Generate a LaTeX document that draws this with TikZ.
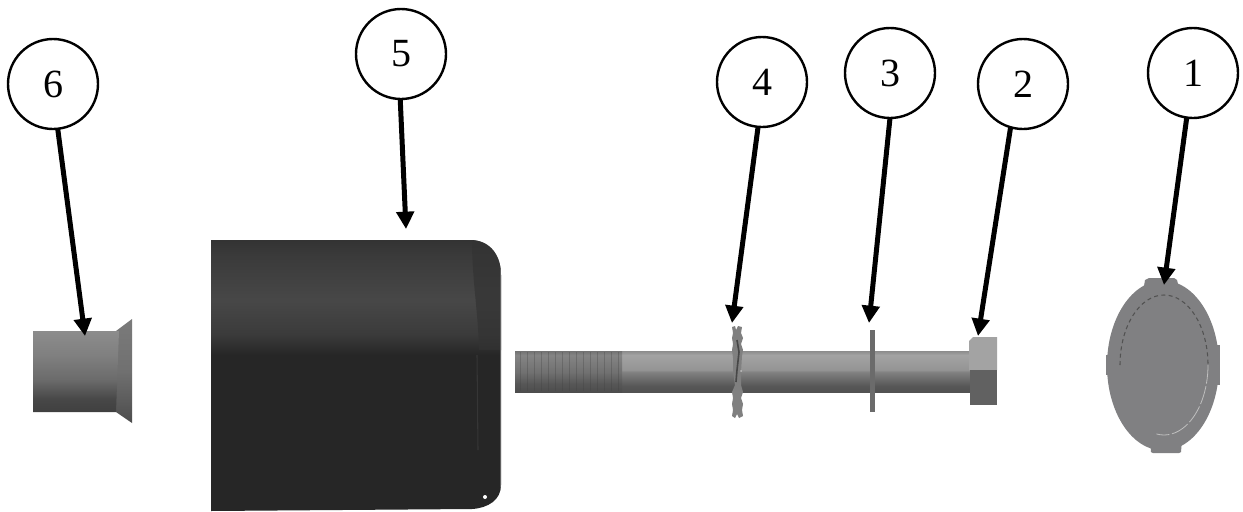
\documentclass[tikz,border=0pt]{standalone}
\usepackage{fontspec}
\setmainfont{Liberation Serif}
\usetikzlibrary{arrows.meta}
\definecolor{capbody}{HTML}{808082}
\pgfdeclareverticalshading{sleeveshade}{100bp}{color(0bp)=(black!100!white);color(25bp)=(black!75!white);color(33bp)=(black!72!white);color(45bp)=(black!58!white);color(60bp)=(black!50!white);color(75bp)=(black!45!white);color(100bp)=(black!45!white)}
\pgfdeclareverticalshading{flangeshade}{100bp}{color(0bp)=(black!70!white);color(25bp)=(black!70!white);color(50bp)=(black!56!white);color(75bp)=(black!52!white);color(100bp)=(black!52!white)}
\pgfdeclareverticalshading{bodyshade}{100bp}{color(0bp)=(black!85!white);color(25bp)=(black!85!white);color(53.8bp)=(black!85!white);color(57.5bp)=(black!77!white);color(63.9bp)=(black!72!white);color(72bp)=(black!77!white);color(75bp)=(black!80!white);color(100bp)=(black!80!white)}
\pgfdeclareverticalshading{shaftshade}{100bp}{color(0bp)=(black!68!white);color(25bp)=(black!68!white);color(32bp)=(black!66!white);color(49bp)=(black!50!white);color(52bp)=(black!42!white);color(70bp)=(black!36!white);color(75bp)=(black!45!white);color(100bp)=(black!45!white)}
\pgfdeclareverticalshading{threadshade}{100bp}{color(0bp)=(black!70!white);color(25bp)=(black!70!white);color(35bp)=(black!66!white);color(49bp)=(black!56!white);color(70bp)=(black!48!white);color(75bp)=(black!55!white);color(100bp)=(black!55!white)}
\tikzset{
  x=0.75pt,y=-0.75pt,
  callout/.style={circle,draw=black,fill=white,line width=1.8pt,minimum size=67.5pt,inner sep=0pt,outer sep=0pt,font=\fontsize{30}{32}\selectfont,text=black},
  leader/.style={line width=3.75pt,-{Triangle[length=13pt,width=13pt]},draw=black},
}
\begin{document}
\begin{tikzpicture}
\useasboundingbox (0,0) rectangle (1243,511);
\fill[white] (0,0) rectangle (1243,511);

% part 6: flanged sleeve
\shade[shading=flangeshade] (116,331) -- (132,319) -- (132,423) -- (116,412) -- cycle;
\shade[shading=sleeveshade] (33,331) -- (119,331) -- (116,412) -- (33,412) -- cycle;

% part 5: dark cylinder
\begin{scope}
\path[clip] (211,240) -- (472,240) .. controls (490,241) and (501,255) .. (501,275) -- (501,485) .. controls (501,500) and (488,508) .. (472,509) -- (211,511) -- cycle;
\shade[shading=bodyshade] (211,240) rectangle (501,511);
\fill[black!80!white,opacity=.7] (472,240) -- (501,240) -- (501,350) -- (479,350) .. controls (478,310) and (472,280) .. (472,240) -- cycle;
\draw[black!76!white,opacity=.7,line width=.8pt] (477,355) -- (478,450);
\draw[black!62!white,line width=1.2pt] (500.5,270) -- (500.5,490);
\end{scope}
\fill[white] (485,497) circle (2);

% part 2/3/4 bolt
\shade[shading=shaftshade] (515,351) rectangle (972,392);
\shade[shading=threadshade] (515,351) rectangle (622,392);
\foreach \tx in {520,527,...,620} {\draw[black!75!white,opacity=.3,line width=.6pt] (\tx,352) -- (\tx,391);}
\fill[black!36!white] (969,341) -- (973,337) -- (997,337) -- (997,370) -- (969,370) -- cycle;
\fill[black!62!white] (970,370) rectangle (997,405);
% washer 3
\fill[black!58!white] (870,330) rectangle (875,412);
% washer 4
\fill[black!50!white] (732,327) -- (735,326) -- (736,330) -- (738,326) -- (742,327) -- (741,333) -- (743,338) -- (741,344) -- (743,350) -- (742,356) -- (741,372) -- (741,385) -- (743,392) -- (741,398) -- (743,404) -- (742,410) -- (743,416) -- (739,418) -- (737,414) -- (735,418) -- (732,416) -- (733,410) -- (732,404) -- (733,398) -- (732,392) -- (735,385) -- (733,372) -- (733,358) -- (732,350) -- (733,344) -- (732,338) -- (733,333) -- cycle;
\draw[black!72!white,line width=1.2pt] (737,340) -- (739,352) -- (737,370) -- (736,382);
\fill[black!25!white] (741,371) circle (1);

% part 1: end cap
\fill[capbody] (1145,280) -- (1149,278) -- (1174,278) -- (1177,280) -- (1180,292) -- (1143,292) -- cycle;
\fill[capbody] (1150,440) -- (1182,440) -- (1181,452) -- (1179,453) -- (1153,453) -- (1151,452) -- cycle;
\fill[capbody] (1106,355) rectangle (1110,375);
\fill[capbody] (1216,345) rectangle (1220,385);
\fill[capbody] (1163,365.5) ellipse [x radius=56,y radius=85];
\draw[black!68!white,line width=.8pt,dash pattern=on 3pt off 2.5pt] (1120,365) arc [start angle=180,end angle=360,x radius=44,y radius=70];
\draw[black!25!white,line width=.6pt,dash pattern=on 14pt off 2pt] (1208,365) arc [start angle=0,end angle=100,x radius=44,y radius=70];

% callouts
\node[callout] (n6) at (53,84) {6};
\node[callout] (n5) at (401,54) {5};
\node[callout] (n4) at (762,82) {4};
\node[callout] (n3) at (890,73) {3};
\node[callout] (n2) at (1023,84) {2};
\node[callout] (n1) at (1193,73) {1};
\coordinate (t6) at (85,336);
\coordinate (t5) at (406,229);
\coordinate (t4) at (732,323);
\coordinate (t3) at (869,323);
\coordinate (t2) at (978,336);
\coordinate (t1) at (1164,285);
\draw[leader] (n6.-84) -- (t6);
\draw[leader] (n5.-91) -- (t5);
\draw[leader] (n4.-95) -- (t4);
\draw[leader] (n3.-90) -- (t3);
\draw[leader] (n2.-106) -- (t2);
\draw[leader] (n1.-98) -- (t1);
\end{tikzpicture}
\end{document}
